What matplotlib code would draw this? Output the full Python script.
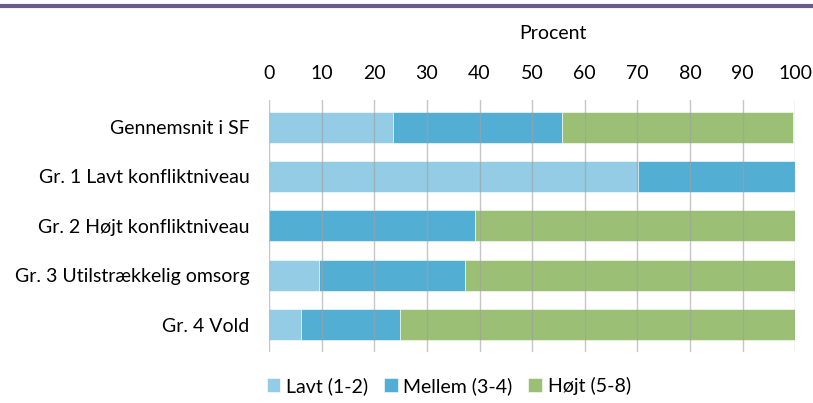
import matplotlib
matplotlib.use("Agg")
import matplotlib.pyplot as plt
import numpy as np

categories = ["Gennemsnit i SF", "Gr. 1 Lavt konfliktniveau", "Gr. 2 Højt konfliktniveau",
              "Gr. 3 Utilstrækkelig omsorg", "Gr. 4 Vold"]
lavt = [23.5, 70.2, 0.0, 9.5, 6.0]
mellem = [32.2, 29.8, 39.1, 27.8, 18.9]
hojt = [43.9, 0.0, 60.9, 62.7, 75.1]
series_names = ["Lavt (1-2)", "Mellem (3-4)", "Højt (5-8)"]
colors = ["#93CCE4", "#53AED4", "#9BBF74"]
xticks = [0, 10, 20, 30, 40, 50, 60, 70, 80, 90, 100]

plt.rcParams['font.family'] = ['Lato', 'DejaVu Sans']
FS = 14

fig = plt.figure(figsize=(8.13, 4.03), dpi=100)
ax = fig.add_axes([0.331, 0.127, 0.647, 0.625])

y = np.arange(len(categories))
left = np.zeros(len(categories))
for vals, name, c in zip([lavt, mellem, hojt], series_names, colors):
    ax.barh(y, vals, left=left, height=0.63, color=c, label=name,
            edgecolor="white", linewidth=0.4, zorder=2)
    left = left + np.array(vals)

ax.set_xlim(0, 100)
ax.set_ylim(len(categories) - 0.45, -0.55)
ax.set_yticks(y)
ax.set_yticklabels(categories, fontsize=FS)
ax.set_xticks(xticks)
ax.xaxis.tick_top()
ax.tick_params(axis='x', labelsize=FS, length=0, pad=13)
ax.tick_params(axis='y', length=0, pad=14)
for s in ax.spines.values():
    s.set_visible(False)
ax.grid(axis='x', color="#A0A0A0", alpha=0.6, linewidth=1.0, zorder=3)
ax.set_axisbelow(False)

fig.text(0.68, 0.918, "Procent", ha="center", va="center", fontsize=FS)

fig.add_artist(plt.Line2D([0, 1], [0.985, 0.985], color="#6B5B8B", linewidth=3,
                          transform=fig.transFigure))

handles, labels = ax.get_legend_handles_labels()
fig.legend(handles, labels, loc="center", bbox_to_anchor=(0.552, 0.042), ncol=3,
           frameon=False, fontsize=FS, handlelength=0.7, handleheight=0.7,
           handletextpad=0.3, columnspacing=0.8)

fig.savefig("out.png", dpi=100)
